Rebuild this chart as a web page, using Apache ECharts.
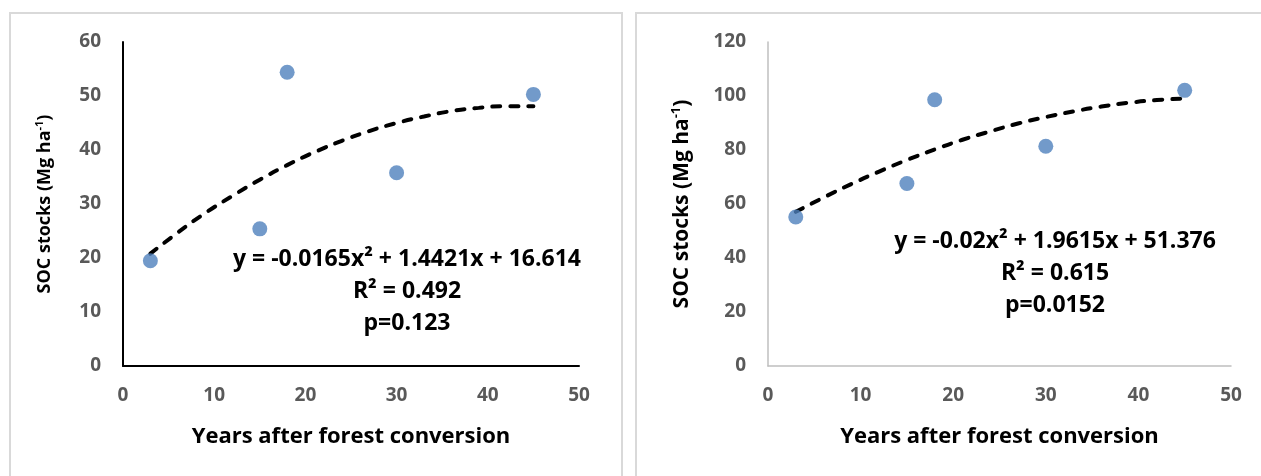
<!DOCTYPE html>
<html><head><meta charset="utf-8">
<script src="https://cdn.jsdelivr.net/npm/echarts@6/dist/echarts.min.js"></script>
<style>html,body{margin:0;padding:0;background:#fff}#c{width:1261px;height:476px}</style>
</head><body><div id="c"></div>
<script>
// ---- data ----
const years = [3, 15, 18, 30, 45];
const socLeft = [19.5, 25.4, 54.4, 35.8, 50.3];
const socRight = [55.2, 67.6, 98.6, 81.4, 102.1];
const trendX = [3, 6, 9, 12, 15, 18, 21, 24, 27, 30, 33, 36, 39, 42, 45];
const trendLeft = [20.8, 24.7, 28.3, 31.5, 34.5, 37.2, 39.6, 41.7, 43.5, 45.0, 46.2, 47.2, 47.8, 48.1, 48.1];
const trendRight = [57.1, 62.4, 67.4, 72.0, 76.3, 80.2, 83.8, 86.9, 89.8, 92.2, 94.3, 96.1, 97.5, 98.5, 99.1];
const xTicks = [0, 10, 20, 30, 40, 50];
const yTicksLeft = [0, 10, 20, 30, 40, 50, 60];
const yTicksRight = [0, 20, 40, 60, 80, 100, 120];
const eqLeft = ['y = -0.0165x² + 1.4421x + 16.614', 'R² = 0.492', 'p=0.123'];
const eqRight = ['y = -0.02x² + 1.9615x + 51.376', 'R² = 0.615', 'p=0.0152'];
const xTitle = 'Years after forest conversion';

const pair = (xs, ys) => xs.map((x, i) => [x, ys[i]]);
const FONT = '"Open Sans"';
const tickLbl = {fontFamily: FONT, fontWeight: 'bold', fontSize: 19, color: '#595959'};

function xAxis(gi, lineColor, lineW) {
  return {
    gridIndex: gi, type: 'value', min: xTicks[0], max: xTicks[xTicks.length - 1], interval: 10,
    axisLine: {show: true, lineStyle: {color: lineColor, width: lineW}},
    axisTick: {show: false}, splitLine: {show: false},
    axisLabel: Object.assign({margin: 20}, tickLbl),
    name: xTitle, nameLocation: 'middle', nameGap: 60,
    nameTextStyle: {fontFamily: FONT, fontWeight: 'bold', fontSize: 22, color: '#000'}
  };
}
function yAxis(gi, ticks, lineColor, lineW, nameSize, nameGap) {
  return {
    gridIndex: gi, type: 'value', min: ticks[0], max: ticks[ticks.length - 1], interval: ticks[1] - ticks[0],
    axisLine: {show: true, lineStyle: {color: lineColor, width: lineW}},
    axisTick: {show: false}, splitLine: {show: false},
    axisLabel: Object.assign({margin: 22}, tickLbl),
    name: '{t|SOC stocks (Mg ha}{s|-1}{t|)}', nameLocation: 'middle', nameGap: nameGap, nameRotate: 90,
    nameTextStyle: {
      rich: {
        t: {fontFamily: FONT, fontWeight: 'bold', fontSize: nameSize, color: '#000'},
        s: {fontFamily: FONT, fontWeight: 'bold', fontSize: Math.round(nameSize * 0.62), color: '#000', padding: [0, 0, Math.round(nameSize * 0.55), 0]}
      }
    }
  };
}
function eqText(lines, cx, y0, gap) {
  return lines.map((t, i) => ({
    type: 'text', x: cx, y: y0 + i * gap, silent: true,
    style: {text: t, align: 'center', verticalAlign: 'middle',
      font: 'bold 23px "Open Sans"', fill: '#000'}
  }));
}
const trendStyle = {color: '#000', width: 4, type: [8, 10], cap: 'round'};

const chart = echarts.init(document.getElementById('c'), null, {renderer: 'canvas'});
chart.setOption({
  backgroundColor: '#fff',
  animation: false,
  grid: [
    {left: 123, top: 42, width: 456, height: 324},
    {left: 768, top: 42, width: 463, height: 324}
  ],
  xAxis: [xAxis(0, '#000', 2), xAxis(1, '#bfbfbf', 1.5)],
  yAxis: [yAxis(0, yTicksLeft, '#000', 2, 18, 68), yAxis(1, yTicksRight, '#bfbfbf', 1.5, 21, 73)],
  series: [
    {type: 'line', xAxisIndex: 0, yAxisIndex: 0, data: pair(trendX, trendLeft), smooth: true, showSymbol: false,
      lineStyle: trendStyle, z: 2},
    {type: 'scatter', xAxisIndex: 0, yAxisIndex: 0, data: pair(years, socLeft), symbolSize: 15,
      itemStyle: {color: '#4f81bd'}, z: 3},
    {type: 'line', xAxisIndex: 1, yAxisIndex: 1, data: pair(trendX, trendRight), smooth: true, showSymbol: false,
      lineStyle: trendStyle, z: 2},
    {type: 'scatter', xAxisIndex: 1, yAxisIndex: 1, data: pair(years, socRight), symbolSize: 15,
      itemStyle: {color: '#4f81bd'}, z: 3}
  ],
  graphic: [
    {type: 'rect', shape: {x: 10, y: 13, width: 612, height: 480}, style: {fill: null, stroke: '#d9d9d9', lineWidth: 2}, silent: true},
    {type: 'rect', shape: {x: 636, y: 13, width: 640, height: 480}, style: {fill: null, stroke: '#d9d9d9', lineWidth: 2}, silent: true}
  ].concat(eqText(eqLeft, 407, 259, 32), eqText(eqRight, 1055, 241, 32))
});
</script></body></html>
